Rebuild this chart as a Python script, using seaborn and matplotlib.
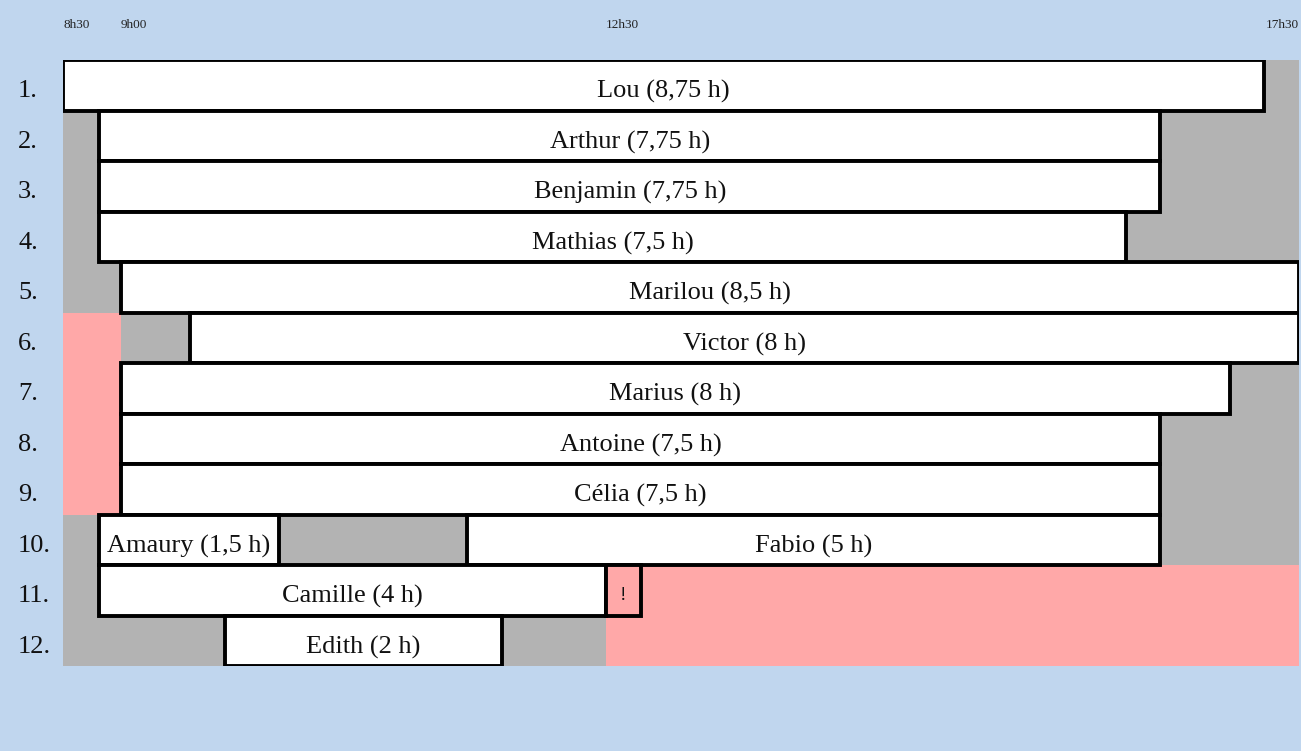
import numpy as np
import matplotlib
matplotlib.use("Agg")
import matplotlib.pyplot as plt
import seaborn as sns

# ---------------- data ----------------
row_labels = ["1.", "2.", "3.", "4.", "5.", "6.", "7.", "8.", "9.", "10.", "11.", "12."]

names = ["Lou", "Arthur", "Benjamin", "Mathias", "Marilou", "Victor", "Marius",
         "Antoine", "Célia", "Amaury", "Fabio", "Camille", "Edith"]
hours_text = ["8,75", "7,75", "7,75", "7,5", "8,5", "8", "8",
              "7,5", "7,5", "1,5", "5", "4", "2"]
shift_row = [0, 1, 2, 3, 4, 5, 6, 7, 8, 9, 9, 10, 11]
shift_start = [8.5, 8.75, 8.75, 8.75, 9.0, 9.5, 9.0, 9.0, 9.0, 8.75, 11.5, 8.75, 9.75]
shift_end = [17.25, 16.5, 16.5, 16.25, 17.5, 17.5, 17.0, 16.5, 16.5, 10.14, 16.5, 12.5, 11.75]

# overflow marker
alert_row = [10]
alert_start = [12.5]
alert_end = [12.75]
alert_text = ["!"]

# pink (out-of-bounds) zones
pink_row = [5, 6, 7, 8, 10, 11]
pink_start = [8.5, 8.5, 8.5, 8.5, 12.5, 12.5]
pink_end = [9.0, 9.0, 9.0, 9.0, 17.5, 17.5]

tick_hours = [8.5, 9.0, 12.5, 17.5]
tick_text = ["8h30", "9h00", "12h30", "17h30"]

day_start, day_end = 8.5, 17.5

# ---------------- style ----------------
BLUE = "#c0d6ee"
GRAY = "#b3b3b3"
PINK = "#ffa8a8"

sns.set_theme(style="white")
plt.rcParams["font.family"] = ["Liberation Serif", "DejaVu Serif"]

W, H = 1301, 751
fig = plt.figure(figsize=(W / 100, H / 100), dpi=100, facecolor=BLUE)
x0, x1, y0, y1 = 63, 1299, 60, 666
ax = fig.add_axes([x0 / W, (H - y1) / H, (x1 - x0) / W, (y1 - y0) / H])
ax.set_facecolor(BLUE)

# piecewise time scale (the early slot is compressed in the original layout)
knot_h = np.array([8.5, 8.75, 9.0, 17.5])
knot_p = np.array([63.0, 99.0, 121.0, 1299.0])
fwd = lambda h: np.interp(h, knot_h, knot_p)
inv = lambda p: np.interp(p, knot_p, knot_h)
ax.set_xscale("function", functions=(fwd, inv))

n_rows = len(row_labels)
rows = np.arange(n_rows)
TXT_DY = 0.07  # text sits slightly below the row centre

# background rows
ax.barh(rows, [day_end - day_start] * n_rows, left=day_start, height=1.0,
        color=GRAY, edgecolor="none", zorder=1)
# pink zones
ax.barh(pink_row, np.array(pink_end) - np.array(pink_start), left=pink_start,
        height=1.0, color=PINK, edgecolor="none", zorder=2)

# shifts
for r, s, e, n, t in zip(shift_row, shift_start, shift_end, names, hours_text):
    ax.barh(r, e - s, left=s, height=1.0, color="white", edgecolor="black",
            linewidth=2.8, zorder=3)
    xm = inv((fwd(s) + fwd(e)) / 2)
    ax.text(xm, r + TXT_DY, f"{n} ({t} h)", ha="center", va="center_baseline",
            fontsize=19, color="#111111", zorder=4)

for r, s, e, t in zip(alert_row, alert_start, alert_end, alert_text):
    ax.barh(r, e - s, left=s, height=1.0, color=PINK, edgecolor="black",
            linewidth=2.8, zorder=3)
    xm = inv((fwd(s) + fwd(e)) / 2)
    ax.text(xm, r + TXT_DY, t, ha="center", va="center_baseline", fontsize=14,
            color="#111111", zorder=4)

ax.set_xlim(day_start, day_end)
ax.set_ylim(n_rows - 0.5, -0.5)

# top time labels
ax.xaxis.tick_top()
ax.set_xticks(tick_hours)
ax.set_xticklabels(tick_text, fontsize=9.5, color="#222222")
for lab in ax.get_xticklabels()[:-1]:
    lab.set_horizontalalignment("left")
ax.get_xticklabels()[-1].set_horizontalalignment("right")
ax.tick_params(axis="x", length=0, pad=21)

# row labels
ax.set_yticks([])
lab_x = (18 - x0) / (x1 - x0)
for r, lab in zip(rows, row_labels):
    ax.text(lab_x, r + TXT_DY, lab, transform=ax.get_yaxis_transform(),
            ha="left", va="center_baseline", fontsize=19, color="#111111",
            clip_on=False)

sns.despine(ax=ax, left=True, bottom=True, top=True, right=True)
ax.grid(False)

fig.savefig("out.png", dpi=100, facecolor=BLUE)
